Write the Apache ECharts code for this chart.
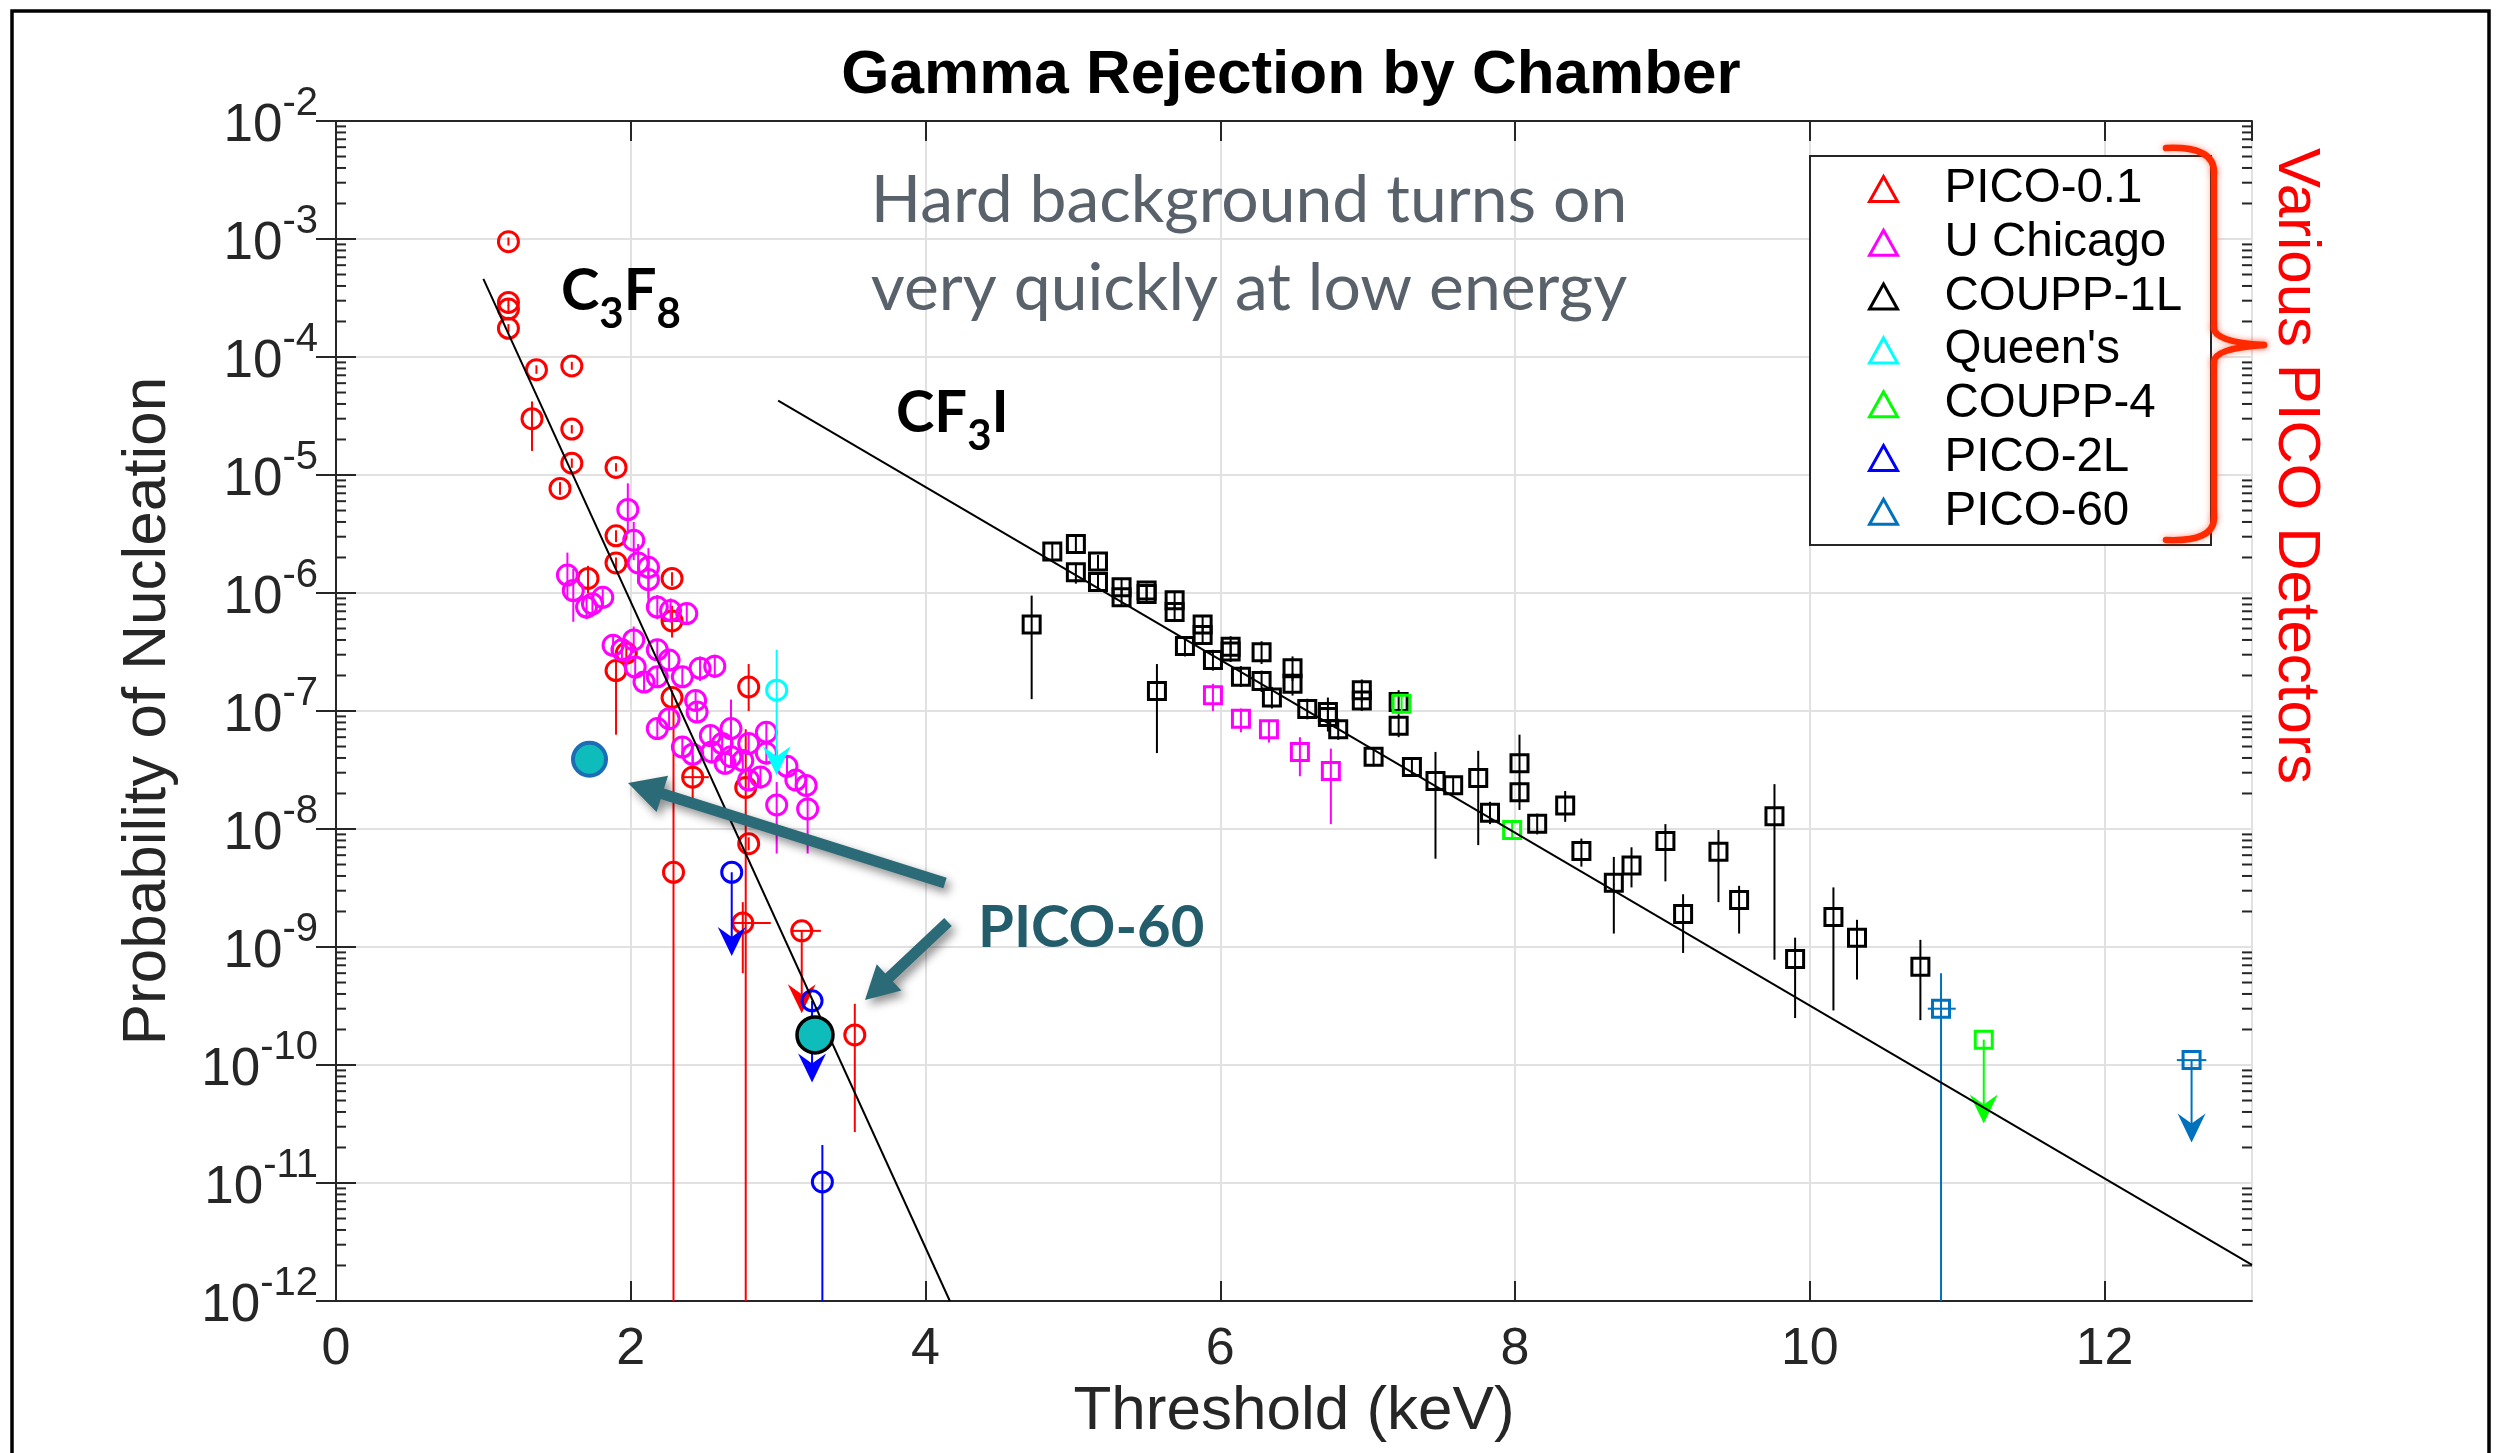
<!DOCTYPE html>
<html>
<head>
<meta charset="utf-8">
<script src="https://cdn.jsdelivr.net/npm/echarts@6/dist/echarts.min.js"></script>
<style>
  html, body { margin: 0; padding: 0; background: #ffffff; }
  #chart { width: 2504px; height: 1453px; }
</style>
</head>
<body>
<div id="chart"></div>
<script>
// ---------- axes ----------
const X_MIN = 0, X_MAX = 13, X_STEP = 2;
const Y_MIN = 1e-12, Y_MAX = 1e-2;
const yDecades = [-12, -11, -10, -9, -8, -7, -6, -5, -4, -3];   // decades that get minor ticks
const minorMantissas = [2, 3, 4, 5, 6, 7, 8, 9];

// ---------- detectors ----------
const detectorNames = ['PICO-0.1', 'U Chicago', 'COUPP-1L', "Queen's", 'COUPP-4', 'PICO-2L', 'PICO-60'];

// rows: [threshold keV, probability, err low, err high, x low, x high, upper-limit arrow tip]
const pico01 = [
  [1.17, 9.5e-4, 8.8e-4, 1.03e-3],
  [1.17, 2.9e-4, 2.7e-4, 3.1e-4],
  [1.17, 2.55e-4, 2.35e-4, 2.75e-4],
  [1.17, 1.75e-4, 1.6e-4, 1.9e-4],
  [1.36, 7.8e-5, 7.2e-5, 8.5e-5],
  [1.60, 8.4e-5, 7.8e-5, 9.1e-5],
  [1.33, 3.0e-5, 1.6e-5, 4.2e-5],
  [1.60, 2.45e-5, 2.25e-5, 2.65e-5],
  [1.60, 1.26e-5, 1.15e-5, 1.38e-5],
  [1.52, 7.7e-6, 6.8e-6, 8.7e-6],
  [1.90, 1.16e-5, 1.07e-5, 1.26e-5],
  [1.90, 3.05e-6, 2.7e-6, 3.4e-6],
  [1.90, 1.8e-6, 1.6e-6, 2.0e-6],
  [1.71, 1.33e-6, 1.0e-6, 1.7e-6],
  [2.28, 1.33e-6, 1.15e-6, 1.5e-6],
  [2.28, 5.8e-7, 4.2e-7, 7.8e-7, 2.22, 2.34],
  [1.97, 3.1e-7, 2.4e-7, 4.0e-7],
  [1.90, 2.2e-7, 6.3e-8, 3.2e-7],
  [2.28, 1.3e-7, 1.1e-7, 1.5e-7],
  [2.29, 4.3e-9, 1e-13, 1.1e-7],
  [2.42, 2.75e-8, 1.8e-8, 4.2e-8, 2.36, 2.53],
  [2.78, 2.25e-8, 1e-13, 7.0e-8],
  [2.80, 1.6e-7, 1.0e-7, 2.5e-7],
  [2.80, 7.5e-9, 6.6e-9, 8.5e-9],
  [2.76, 1.6e-9, 6.0e-10, 2.4e-9, 2.70, 2.95],
  [3.16, 1.37e-9, null, null, 3.10, 3.29, 2.75e-10],
  [3.52, 1.8e-10, 2.7e-11, 3.3e-10]
];

const uChicagoC3F8 = [
  [1.98, 5.1e-6, 3.2e-6, 8.5e-6],
  [2.02, 2.8e-6, 1.9e-6, 4.0e-6],
  [1.57, 1.42e-6, 8.7e-7, 2.2e-6],
  [2.05, 1.8e-6, 1.2e-6, 2.6e-6],
  [2.12, 1.65e-6, 9.0e-7, 2.4e-6],
  [2.12, 1.3e-6, 7.5e-7, 2.0e-6],
  [1.61, 1.05e-6, 5.7e-7, 1.6e-6],
  [1.70, 7.6e-7, 6.0e-7, 9.5e-7],
  [1.74, 8.1e-7, 6.8e-7, 9.6e-7],
  [1.81, 9.2e-7, 7.8e-7, 1.08e-6],
  [2.18, 7.6e-7, 6.0e-7, 9.6e-7],
  [2.27, 7.1e-7, 5.6e-7, 9.0e-7],
  [2.38, 6.7e-7, 5.4e-7, 8.2e-7],
  [1.88, 3.6e-7, 3.0e-7, 4.3e-7],
  [2.02, 4.0e-7, 3.1e-7, 5.2e-7],
  [1.94, 3.3e-7, 2.8e-7, 3.9e-7],
  [2.18, 3.3e-7, 2.7e-7, 4.0e-7],
  [2.26, 2.7e-7, 2.2e-7, 3.3e-7],
  [2.09, 1.76e-7, 1.45e-7, 2.1e-7],
  [2.03, 2.36e-7, 1.9e-7, 2.9e-7],
  [2.18, 1.95e-7, 1.6e-7, 2.4e-7],
  [2.35, 1.95e-7, 1.6e-7, 2.4e-7],
  [2.47, 2.3e-7, 1.8e-7, 2.9e-7],
  [2.57, 2.4e-7, 1.9e-7, 3.0e-7],
  [2.44, 1.23e-7, 1.0e-7, 1.5e-7],
  [2.45, 9.8e-8, 8.0e-8, 1.2e-7],
  [2.26, 8.6e-8, 7.0e-8, 1.05e-7],
  [2.18, 7.1e-8, 5.8e-8, 8.7e-8],
  [2.35, 4.95e-8, 4.0e-8, 6.1e-8],
  [2.54, 6.2e-8, 5.0e-8, 7.6e-8],
  [2.62, 5.3e-8, 4.3e-8, 6.5e-8],
  [2.68, 7.1e-8, 4.5e-8, 1.25e-7],
  [2.80, 5.3e-8, 4.3e-8, 6.5e-8],
  [2.92, 6.6e-8, 5.3e-8, 8.1e-8],
  [2.42, 4.3e-8, 3.5e-8, 5.3e-8],
  [2.55, 4.5e-8, 3.6e-8, 5.5e-8],
  [2.64, 3.6e-8, 2.9e-8, 4.4e-8],
  [2.68, 4.1e-8, 3.3e-8, 5.0e-8],
  [2.76, 3.8e-8, 3.1e-8, 4.7e-8],
  [2.88, 2.76e-8, 2.2e-8, 3.4e-8],
  [2.80, 2.6e-8, 2.1e-8, 3.2e-8],
  [2.92, 4.4e-8, 3.5e-8, 5.4e-8],
  [3.06, 3.4e-8, 2.7e-8, 4.2e-8],
  [3.12, 2.6e-8, 2.1e-8, 3.2e-8],
  [3.19, 2.34e-8, 1.9e-8, 2.9e-8],
  [2.99, 1.6e-8, 6.2e-9, 2.5e-8],
  [3.20, 1.48e-8, 6.2e-9, 2.0e-8]
];

const uChicagoCF3I = [
  [5.95, 1.36e-7, 1.0e-7, 1.7e-7],
  [6.14, 8.6e-8, 6.6e-8, 1.05e-7],
  [6.33, 7.0e-8, 5.4e-8, 8.4e-8],
  [6.54, 4.5e-8, 2.8e-8, 6.0e-8],
  [6.75, 3.1e-8, 1.1e-8, 4.8e-8]
];

const coupp1L = [
  [4.72, 5.4e-7, 1.26e-7, 9.5e-7],
  [4.86, 2.25e-6, 1.95e-6, 2.6e-6],
  [5.02, 2.6e-6, 2.25e-6, 3.0e-6],
  [5.02, 1.5e-6, 1.2e-6, 1.8e-6],
  [5.17, 1.85e-6, 1.6e-6, 2.1e-6],
  [5.17, 1.24e-6, 1.05e-6, 1.45e-6],
  [5.33, 1.12e-6, 9.6e-7, 1.3e-6],
  [5.33, 9.2e-7, 7.9e-7, 1.07e-6],
  [5.50, 1.05e-6, 9.0e-7, 1.2e-6],
  [5.50, 9.8e-7, 8.4e-7, 1.13e-6],
  [5.69, 8.7e-7, 7.4e-7, 1.02e-6],
  [5.69, 6.9e-7, 5.8e-7, 8.2e-7],
  [5.88, 5.4e-7, 4.5e-7, 6.5e-7],
  [5.88, 4.4e-7, 3.7e-7, 5.3e-7],
  [5.76, 3.55e-7, 2.9e-7, 4.3e-7],
  [5.57, 1.48e-7, 4.4e-8, 2.5e-7],
  [5.95, 2.7e-7, 2.2e-7, 3.3e-7],
  [6.07, 3.5e-7, 2.9e-7, 4.3e-7],
  [6.07, 3.2e-7, 2.6e-7, 3.9e-7],
  [6.14, 1.95e-7, 1.6e-7, 2.4e-7],
  [6.28, 3.15e-7, 2.5e-7, 3.9e-7],
  [6.28, 1.8e-7, 1.45e-7, 2.2e-7],
  [6.35, 1.3e-7, 1.05e-7, 1.6e-7],
  [6.49, 2.3e-7, 1.8e-7, 2.9e-7],
  [6.49, 1.7e-7, 1.35e-7, 2.1e-7],
  [6.59, 1.04e-7, 8.5e-8, 1.27e-7],
  [6.73, 9.8e-8, 6.7e-8, 1.3e-7],
  [6.73, 8.9e-8, 7.3e-8, 1.08e-7],
  [6.80, 7.0e-8, 5.7e-8, 8.6e-8],
  [6.96, 1.5e-7, 1.2e-7, 1.85e-7],
  [6.96, 1.23e-7, 1.0e-7, 1.5e-7],
  [7.21, 1.19e-7, 9.5e-8, 1.5e-7],
  [7.21, 7.5e-8, 6.0e-8, 9.4e-8],
  [7.04, 4.1e-8, 3.4e-8, 4.9e-8],
  [7.30, 3.35e-8, 2.8e-8, 4.0e-8],
  [7.46, 2.55e-8, 5.6e-9, 4.5e-8],
  [7.58, 2.35e-8, 1.95e-8, 2.8e-8],
  [7.75, 2.7e-8, 7.3e-9, 4.6e-8],
  [8.03, 3.6e-8, 1.45e-8, 6.3e-8],
  [8.03, 2.05e-8, 1.7e-8, 2.5e-8],
  [7.83, 1.37e-8, 1.1e-8, 1.7e-8],
  [8.15, 1.11e-8, 9.0e-9, 1.35e-8],
  [8.34, 1.58e-8, 1.15e-8, 2.1e-8],
  [8.45, 6.5e-9, 4.8e-9, 8.3e-9],
  [8.67, 3.5e-9, 1.3e-9, 5.8e-9],
  [8.79, 4.9e-9, 3.2e-9, 7.0e-9],
  [9.02, 7.9e-9, 3.6e-9, 1.1e-8],
  [9.14, 1.9e-9, 8.9e-10, 2.8e-9],
  [9.38, 6.4e-9, 2.4e-9, 9.8e-9],
  [9.52, 2.5e-9, 1.3e-9, 3.3e-9],
  [9.76, 1.28e-8, 7.8e-10, 2.4e-8],
  [9.90, 7.9e-10, 2.5e-10, 1.2e-9],
  [10.16, 1.8e-9, 2.9e-10, 3.2e-9],
  [10.32, 1.2e-9, 5.3e-10, 1.7e-9],
  [10.75, 6.8e-10, 2.4e-10, 1.15e-9]
];

const queens = [
  [2.99, 1.5e-7, null, 3.3e-7, null, null, 2.85e-8]
];

const coupp4 = [
  [7.23, 1.15e-7, 9.5e-8, 1.4e-7],
  [7.98, 9.8e-9, 8.5e-9, 1.15e-8],
  [11.18, 1.64e-10, null, null, null, null, 3.2e-11]
];

const pico2L = [
  [2.685, 4.3e-9, null, null, null, null, 8.4e-10],
  [3.23, 3.5e-10, null, null, null, null, 7.1e-11],
  [3.30, 1.02e-11, 1e-13, 2.1e-11]
];

const pico60CF3I = [
  [10.89, 3.0e-10, 1e-13, 6.0e-10, 10.80, 10.99],
  [12.59, 1.1e-10, null, null, 12.49, 12.69, 2.2e-11]
];

// PICO-60 C3F8 results, highlighted
const pico60RunA = [[1.72, 3.9e-8]];
const pico60RunB = [[3.25, 1.8e-10]];

// exponential fits (end points)
const c3f8Fit = [[1.0, 4.6e-4], [4.165, 1e-12]];
const cf3iFit = [[3.0, 4.26e-5], [13.0, 2.02e-12]];

// ---------- styling ----------
const COLORS = {
  'PICO-0.1': '#ff0000', 'U Chicago': '#ff00ff', 'COUPP-1L': '#000000', "Queen's": '#00ffff',
  'COUPP-4': '#00ff00', 'PICO-2L': '#0000ff', 'PICO-60': '#0072bd'
};
const AXIS_COLOR = '#262626';
const SANS = '"Liberation Sans", Arial, Helvetica, sans-serif';
const HUMAN = 'Lato, "Open Sans", sans-serif';
const DIMS = ['x', 'y', 'lo', 'hi', 'xl', 'xh', 'tip'];

function pad(rows) {
  return rows.map(r => { const o = r.slice(); while (o.length < DIMS.length) o.push(null); return o; });
}

function errorBarRenderer(shape, color) {
  return function (params, api) {
    const val = i => { const v = api.value(i); return (v == null || isNaN(v)) ? null : v; };
    const x = val(0), y = val(1);
    const lo = val(2), hi = val(3), xl = val(4), xh = val(5), tip = val(6);
    const p = api.coord([x, y]);
    const clampY = v => Math.min(Math.max(v, Y_MIN), Y_MAX);
    const line = { stroke: color, lineWidth: 2 };
    const kids = [];
    if (lo != null || hi != null) {
      const a = api.coord([x, clampY(hi != null ? hi : y)]);
      const b = api.coord([x, clampY(lo != null ? lo : y)]);
      kids.push({ type: 'line', shape: { x1: a[0], y1: a[1], x2: b[0], y2: b[1] }, style: line });
    }
    if (xl != null && xh != null) {
      const a = api.coord([xl, y]), b = api.coord([xh, y]);
      kids.push({ type: 'line', shape: { x1: a[0], y1: a[1], x2: b[0], y2: b[1] }, style: line });
    }
    if (tip != null) {
      const t = api.coord([x, tip]);
      kids.push({ type: 'line', shape: { x1: p[0], y1: p[1], x2: t[0], y2: t[1] - 12 }, style: line });
      kids.push({
        type: 'polygon',
        shape: { points: [[t[0], t[1]], [t[0] - 14, t[1] - 29], [t[0], t[1] - 19], [t[0] + 14, t[1] - 29]] },
        style: { fill: color }
      });
    }
    if (shape === 'circle') {
      kids.push({ type: 'circle', shape: { cx: p[0], cy: p[1], r: 10 }, style: { fill: 'none', stroke: color, lineWidth: 3 } });
    } else {
      kids.push({ type: 'rect', shape: { x: p[0] - 8.5, y: p[1] - 8.5, width: 17, height: 17 }, style: { fill: 'none', stroke: color, lineWidth: 3 } });
    }
    return { type: 'group', children: kids };
  };
}

function errorSeries(name, rows, shape) {
  const color = COLORS[name];
  return {
    type: 'custom', name: name, data: pad(rows), dimensions: DIMS,
    encode: { x: 0, y: 1 }, itemStyle: { color: color },
    renderItem: errorBarRenderer(shape, color), z: 3
  };
}

// minor ticks of the log axis, drawn on both sides of the box
const minorTickRows = [];
yDecades.forEach(k => minorMantissas.forEach(m => minorTickRows.push([X_MIN, m * Math.pow(10, k)])));

function minorTickRenderer(params, api) {
  const v = api.value(1);
  const l = api.coord([X_MIN, v]), r = api.coord([X_MAX, v]);
  const st = { stroke: AXIS_COLOR, lineWidth: 2 };
  return {
    type: 'group', children: [
      { type: 'line', shape: { x1: l[0], y1: l[1], x2: l[0] + 10, y2: l[1] }, style: st },
      { type: 'line', shape: { x1: r[0], y1: r[1], x2: r[0] - 10, y2: r[1] }, style: st }
    ]
  };
}

// block arrow from tail to tip, in pixels
function blockArrow(tail, tip, shaft, headLen, headHalf) {
  const dx = tip[0] - tail[0], dy = tip[1] - tail[1];
  const len = Math.hypot(dx, dy);
  const ux = dx / len, uy = dy / len, nx = -uy, ny = ux;
  const bx = tip[0] - ux * headLen, by = tip[1] - uy * headLen;
  const s = shaft / 2;
  return [
    [tail[0] + nx * s, tail[1] + ny * s], [bx + nx * s, by + ny * s], [bx + nx * headHalf, by + ny * headHalf],
    [tip[0], tip[1]],
    [bx - nx * headHalf, by - ny * headHalf], [bx - nx * s, by - ny * s], [tail[0] - nx * s, tail[1] - ny * s]
  ];
}

const ARROW_STYLE = { fill: '#2b6a77', shadowBlur: 10, shadowColor: 'rgba(0,0,0,0.45)', shadowOffsetX: 4, shadowOffsetY: 5 };
const BRACE_STYLE = { fill: 'none', stroke: '#ff2a00', lineWidth: 6.5, lineCap: 'round', shadowBlur: 6, shadowColor: 'rgba(255,40,0,0.45)' };

// curly brace next to the legend
const braceParts = [
  { type: 'bezierCurve', shape: { x1: 2166, y1: 148, cpx1: 2214, cpy1: 146, x2: 2214, y2: 172 } },
  { type: 'line', shape: { x1: 2214, y1: 172, x2: 2214, y2: 328 } },
  { type: 'bezierCurve', shape: { x1: 2214, y1: 328, cpx1: 2214, cpy1: 342, x2: 2264, y2: 345 } },
  { type: 'bezierCurve', shape: { x1: 2264, y1: 345, cpx1: 2214, cpy1: 348, x2: 2214, y2: 362 } },
  { type: 'line', shape: { x1: 2214, y1: 362, x2: 2214, y2: 518 } },
  { type: 'bezierCurve', shape: { x1: 2214, y1: 518, cpx1: 2214, cpy1: 542, x2: 2166, y2: 540 } }
].map(p => Object.assign(p, { z: 11, style: BRACE_STYLE }));

// chemical formula text with lowered subscripts
const formulaRich = {
  b: { fontFamily: HUMAN, fontWeight: 'bold', fontSize: 58, lineHeight: 58, fill: '#000' },
  s: { fontFamily: HUMAN, fontWeight: 'bold', fontSize: 42, lineHeight: 42, padding: [46, 0, 0, 0], fill: '#000' }
};

const chart = echarts.init(document.getElementById('chart'), null, { renderer: 'canvas', width: 2504, height: 1453 });

const baseX = {
  type: 'value', min: X_MIN, max: X_MAX, interval: X_STEP,
  axisLine: { show: true, onZero: false, lineStyle: { color: AXIS_COLOR, width: 2 } },
  axisTick: { show: true, inside: true, length: 20, lineStyle: { color: AXIS_COLOR, width: 2 } }
};
const baseY = {
  type: 'log', logBase: 10, min: Y_MIN, max: Y_MAX, interval: 1, splitNumber: 10,
  axisLine: { show: true, lineStyle: { color: AXIS_COLOR, width: 2 } },
  axisTick: { show: true, inside: true, length: 20, lineStyle: { color: AXIS_COLOR, width: 2 } }
};

const option = {
  animation: false,
  backgroundColor: '#ffffff',
  grid: { left: 336, right: 252, top: 121, bottom: 152, containLabel: false },
  xAxis: [
    Object.assign({}, baseX, {
      position: 'bottom',
      name: 'Threshold (keV)', nameLocation: 'middle', nameGap: 72,
      nameTextStyle: { fontFamily: SANS, fontSize: 62, color: AXIS_COLOR },
      axisLabel: { show: true, showMaxLabel: false, margin: 23, fontFamily: SANS, fontSize: 52, color: AXIS_COLOR },
      splitLine: { show: true, lineStyle: { color: '#e1e1e1', width: 2 } }
    }),
    Object.assign({}, baseX, { position: 'top', axisLabel: { show: false }, splitLine: { show: false } })
  ],
  yAxis: [
    Object.assign({}, baseY, {
      position: 'left',
      name: 'Probability of Nucleation', nameLocation: 'middle', nameGap: 157,
      nameTextStyle: { fontFamily: SANS, fontSize: 62, color: AXIS_COLOR },
      axisLabel: {
        show: true, margin: 18,
        formatter: v => '{b|10}{s|' + Math.round(Math.log10(v)) + '}',
        rich: {
          b: { fontFamily: SANS, fontSize: 53, color: AXIS_COLOR, lineHeight: 53, padding: [11, 0, 0, 0] },
          s: { fontFamily: SANS, fontSize: 40, color: AXIS_COLOR, lineHeight: 40, padding: [0, 0, 35, 0] }
        }
      },
      splitLine: { show: true, lineStyle: { color: '#e1e1e1', width: 2 } }
    }),
    Object.assign({}, baseY, { position: 'right', axisLabel: { show: false }, splitLine: { show: false } })
  ],
  legend: {
    orient: 'vertical', left: 1868, top: 165, padding: 0,
    itemWidth: 28, itemHeight: 25, itemGap: 5.8, selectedMode: false, z: 10,
    textStyle: { fontFamily: SANS, fontSize: 47.5, color: '#000', padding: [0, 0, 0, 42] },
    data: detectorNames.map(n => ({
      name: n, icon: 'triangle',
      itemStyle: { color: 'rgba(0,0,0,0)', borderColor: COLORS[n], borderWidth: 3 }
    }))
  },
  series: [
    { type: 'custom', name: 'minor ticks', data: minorTickRows, encode: { x: 0, y: 1 }, renderItem: minorTickRenderer, silent: true, z: 1 },
    errorSeries('PICO-0.1', pico01, 'circle'),
    errorSeries('U Chicago', uChicagoC3F8, 'circle'),
    errorSeries('U Chicago', uChicagoCF3I, 'square'),
    errorSeries('COUPP-1L', coupp1L, 'square'),
    errorSeries("Queen's", queens, 'circle'),
    errorSeries('COUPP-4', coupp4, 'square'),
    errorSeries('PICO-2L', pico2L, 'circle'),
    errorSeries('PICO-60', pico60CF3I, 'square'),
    { type: 'line', name: 'C3F8 fit', data: c3f8Fit, symbol: 'none', silent: true, z: 4, lineStyle: { color: '#000', width: 2 } },
    { type: 'line', name: 'CF3I fit', data: cf3iFit, symbol: 'none', silent: true, z: 4, lineStyle: { color: '#000', width: 2 } },
    { type: 'scatter', name: 'PICO-60 run A', data: pico60RunA, symbol: 'circle', symbolSize: 33, z: 5,
      itemStyle: { color: '#0fbcbc', borderColor: '#1b6db5', borderWidth: 4, opacity: 1 } },
    { type: 'scatter', name: 'PICO-60 run B', data: pico60RunB, symbol: 'circle', symbolSize: 36, z: 5,
      itemStyle: { color: '#0fbcbc', borderColor: '#000000', borderWidth: 3.5, opacity: 1 } }
  ],
  graphic: [
    // outer frame
    { type: 'rect', z: 0, shape: { x: 12, y: 11, width: 2477, height: 1520 }, style: { fill: 'none', stroke: '#000', lineWidth: 3.5 } },
    // chart title
    { type: 'text', z: 10, x: 1291, y: 76,
      style: { text: 'Gamma Rejection by Chamber', fontFamily: SANS, fontWeight: 'bold', fontSize: 62, fill: '#000', align: 'center', verticalAlign: 'middle' } },
    // legend box
    { type: 'rect', z: 9, shape: { x: 1810, y: 156, width: 401, height: 389 }, style: { fill: '#fff', stroke: AXIS_COLOR, lineWidth: 2 } }
  ].concat(braceParts, [
    { type: 'text', z: 11, x: 2296, y: 466, rotation: -Math.PI / 2,
      style: { text: 'Various PICO Detectors', fontFamily: SANS, fontSize: 60, fill: '#ff0000', align: 'center', verticalAlign: 'middle' } },
    // note on the hard background
    { type: 'text', z: 10, x: 1249, y: 245,
      style: { text: 'Hard background turns on\nvery quickly at low energy', fontFamily: HUMAN, fontSize: 66, lineHeight: 88,
        fill: '#59616b', align: 'center', verticalAlign: 'middle' } },
    // target liquid labels
    { type: 'text', z: 10, x: 561, y: 291,
      style: { text: '{b|C}{s|3}{b|F}{s|8}', align: 'left', verticalAlign: 'middle', rich: formulaRich } },
    { type: 'text', z: 10, x: 896, y: 413,
      style: { text: '{b|CF}{s|3}{b|I}', align: 'left', verticalAlign: 'middle', rich: formulaRich } },
    // PICO-60 callout
    { type: 'polygon', z: 8, shape: { points: blockArrow([945, 883], [628, 783], 11, 36, 19) }, style: ARROW_STYLE },
    { type: 'polygon', z: 8, shape: { points: blockArrow([948, 922], [865, 1000], 11, 33, 18) }, style: ARROW_STYLE },
    { type: 'text', z: 10, x: 978, y: 928,
      style: { text: 'PICO-60', fontFamily: HUMAN, fontWeight: 'bold', fontSize: 58, fill: '#235c6b', align: 'left', verticalAlign: 'middle' } }
  ])
};

chart.setOption(option);
</script>
</body>
</html>
